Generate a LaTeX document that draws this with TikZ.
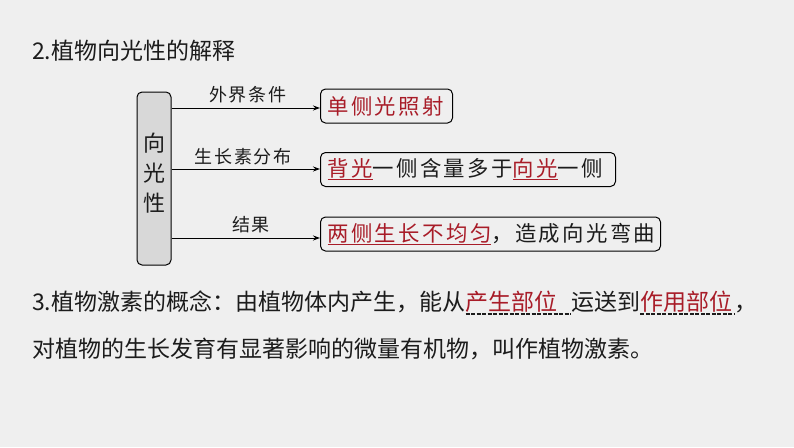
\documentclass[tikz,border=0pt]{standalone}
\usepackage{fontspec}
\setmainfont{Noto Sans CJK SC}
\newfontfamily\boxfont[LetterSpace=11]{Noto Sans CJK SC}
\newfontfamily\labfont[LetterSpace=11]{Noto Sans CJK SC}
\usetikzlibrary{arrows.meta,calc}
\definecolor{bg}{RGB}{239,239,239}
\definecolor{ink}{RGB}{28,28,28}
\definecolor{hred}{RGB}{168,28,40}
\definecolor{boxgray}{RGB}{216,216,216}
\newcommand{\rul}[1]{\setbox0\hbox{#1}\rlap{\textcolor{hred}{\rule[-3.5pt]{\wd0}{1pt}}}\textcolor{hred}{#1}}
\tikzset{
  maintext/.style={text=ink, inner sep=0pt, font=\fontsize{23}{27}\selectfont},
  outbox/.style={draw=black, line width=1pt, rounded corners=5pt, anchor=west,
    minimum height=34pt, inner xsep=7pt, inner ysep=0pt, align=left, text=ink,
    font=\boxfont\fontsize{21.4}{24}\selectfont},
  labeltext/.style={text=ink, inner sep=0pt, font=\labfont\fontsize{18}{22}\selectfont},
  arr/.style={draw=black, line width=1pt, -{Stealth[length=7pt,width=5pt]}},
  blankline/.style={draw=ink, line width=1.1pt, dash pattern=on 4pt off 1.5pt}
}
\begin{document}
\begin{tikzpicture}[x=1pt,y=-1pt]
\fill[bg] (0,0) rectangle (794,447);
\useasboundingbox (0,0) rectangle (794,447);

% title
\node[maintext, anchor=base west] (title) at (32,59) {2.植物向光性的解释};

% left gray box
\node[draw=black, line width=1pt, fill=boxgray, rounded corners=5pt,
      minimum width=34pt, minimum height=173pt, inner sep=0pt] (g) at (154,178.5) {};
\node[text=ink, align=center, inner sep=0pt, font=\fontsize{22}{30}\selectfont] (gt) at (154,173) {向\\光\\性};

% right boxes
\node[outbox, text width=118pt] (b1) at (320,106) {\textcolor{hred}{单侧光照射}};
\node[outbox, text width=281pt] (b2) at (320,169.5) {\rul{背光}一侧含量多于\rul{向光}一侧};
\node[outbox, text width=326pt] (b3) at (320,234) {\rul{两侧生长不均匀}，造成向光弯曲};

% arrows
\coordinate (e1) at ($(b1.west)+(0,2)$);
\coordinate (e2) at ($(b2.west)+(0,-0.5)$);
\coordinate (e3) at ($(b3.west)+(0,4)$);
\draw[arr] (g.east |- e1) -- (e1);
\draw[arr] (g.east |- e2) -- (e2);
\draw[arr] (g.east |- e3) -- (e3);

% labels
\node[labeltext] (l1) at (248,95) {外界条件};
\node[labeltext] (l2) at (243,157) {生长素分布};
\node[labeltext] (l3) at (251,225) {结果};

% line 3
\node[maintext, anchor=base west] (p1) at (32,310) {3.植物激素的概念：由植物体内产生，能从};
\node[maintext, anchor=base west] (p2) at (p1.base east) {\makebox[105pt][l]{\textcolor{hred}{产生部位}}};
\draw[blankline] ($(p2.base west)+(0,4)$) -- ($(p2.base east)+(0,4)$);
\node[maintext, anchor=base west] (p3) at (p2.base east) {运送到};
\node[maintext, anchor=base west] (p4) at (p3.base east) {\makebox[94pt][l]{\textcolor{hred}{作用部位}}};
\draw[blankline] ($(p4.base west)+(0,4)$) -- ($(p4.base east)+(0,4)$);
\node[maintext, anchor=base west] (p5) at (p4.base east) {，};

% line 4
\node[maintext, anchor=base west] (q) at (32,357) {对植物的生长发育有显著影响的微量有机物，叫作植物激素。};
\end{tikzpicture}
\end{document}
